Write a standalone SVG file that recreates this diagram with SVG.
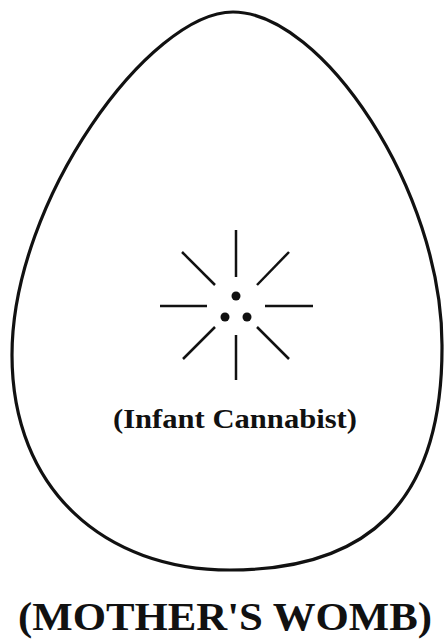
<svg xmlns="http://www.w3.org/2000/svg" width="444" height="640" viewBox="0 0 444 640">
<style>
.egg{fill:none;stroke:#111;stroke-width:3.2}
.ray{stroke:#111;stroke-width:2.5;stroke-linecap:butt}
.dot{fill:#111}
.lbl{font-family:"Liberation Serif","Times New Roman",serif;font-weight:bold;fill:#111;text-anchor:middle}
</style>
<rect width="444" height="640" fill="#fff"/>
<g id="womb">
<path class="egg" d="M233,12 C322,12 442,190 442,345 C443,505 365,570 230,570 C105,570 12,490 12,355 C12,200 150,12 233,12 Z"/>
<text class="lbl" x="225" y="630" font-size="41" textLength="414" lengthAdjust="spacingAndGlyphs">(MOTHER'S WOMB)</text>
</g>
<g id="infant">
<line class="ray" x1="236" y1="230" x2="236" y2="277"/>
<line class="ray" x1="236" y1="335" x2="236" y2="380"/>
<line class="ray" x1="160" y1="306" x2="207" y2="306"/>
<line class="ray" x1="265" y1="306" x2="313" y2="306"/>
<line class="ray" x1="182" y1="252" x2="215" y2="285"/>
<line class="ray" x1="289" y1="252" x2="257" y2="285"/>
<line class="ray" x1="215" y1="327" x2="183" y2="359"/>
<line class="ray" x1="257" y1="327" x2="289" y2="359"/>
<circle class="dot" cx="236" cy="296" r="4.5"/>
<circle class="dot" cx="225" cy="317" r="4.5"/>
<circle class="dot" cx="247" cy="317" r="4.5"/>
<text class="lbl" x="235" y="428" font-size="28" textLength="244" lengthAdjust="spacingAndGlyphs">(Infant Cannabist)</text>
</g>
<g id="connectors"></g>
</svg>
